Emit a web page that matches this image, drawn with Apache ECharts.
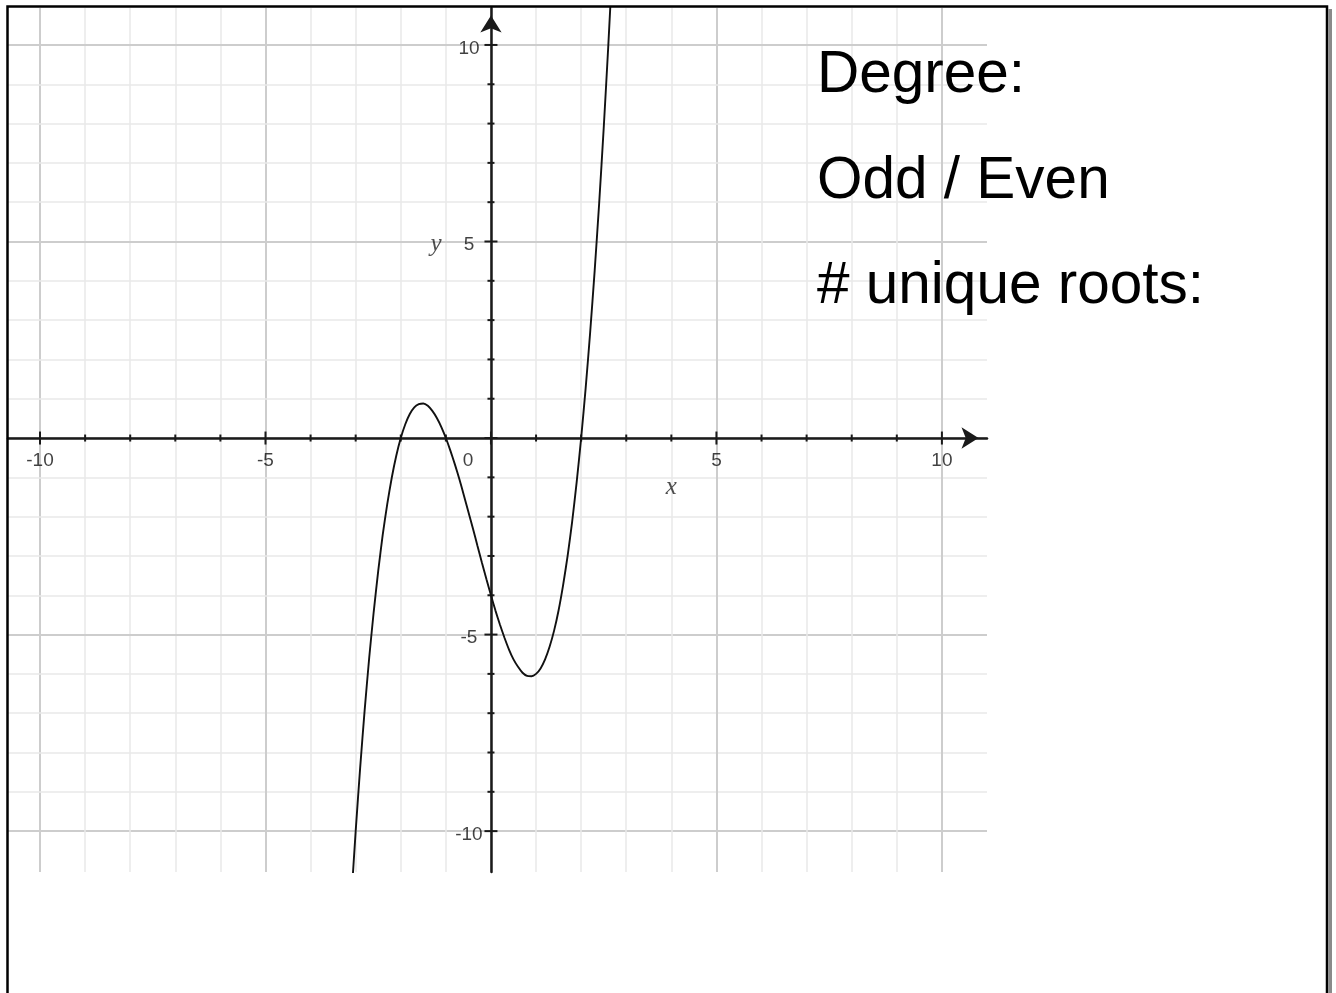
<!DOCTYPE html>
<html>
<head>
<meta charset="utf-8">
<style>
html,body{margin:0;padding:0;background:#fff;}
#chart{width:1336px;height:993px;}
</style>
<script src="https://cdn.jsdelivr.net/npm/echarts@6/dist/echarts.min.js"></script>
</head>
<body>
<div id="chart"></div>
<script>
// ---- data ----
const curveX = [-3.1, -3.0, -2.9, -2.8, -2.7, -2.6, -2.5, -2.4, -2.3, -2.2, -2.1, -2.0, -1.9, -1.8, -1.7, -1.6, -1.5, -1.4, -1.3, -1.2, -1.1, -1.0,
  -0.9, -0.8, -0.7, -0.6, -0.5, -0.4, -0.3, -0.2, -0.1, 0, 0.1, 0.2, 0.3, 0.4, 0.5, 0.6, 0.7, 0.8, 0.9, 1.0,
  1.1, 1.2, 1.3, 1.4, 1.5, 1.6, 1.7, 1.8, 1.9, 2.0, 2.1, 2.2, 2.3, 2.4, 2.5, 2.6, 2.7];
const curveY = [-11.78, -10.0, -8.38, -6.91, -5.59, -4.42, -3.38, -2.46, -1.68, -1.01, -0.45, 0, 0.35, 0.61, 0.78, 0.86, 0.88, 0.82, 0.69, 0.51, 0.28, 0,
  -0.32, -0.67, -1.05, -1.46, -1.88, -2.30, -2.74, -3.17, -3.59, -4.0, -4.39, -4.75, -5.08, -5.38, -5.63, -5.82, -5.97, -6.05, -6.06, -6.0,
  -5.86, -5.63, -5.31, -4.90, -4.38, -3.74, -3.00, -2.13, -1.13, 0, 1.27, 2.69, 4.26, 5.98, 7.88, 9.94, 12.17];
const gridSteps = [-10, -9, -8, -7, -6, -5, -4, -3, -2, -1, 0, 1, 2, 3, 4, 5, 6, 7, 8, 9, 10];
const majorSteps = [-10, -5, 0, 5, 10];
const xTickLabels = [-10, -5, 0, 5, 10];
const yTickLabels = [-10, -5, 5, 10];
const axisNames = ['x', 'y'];
const sideTexts = ['Degree:', 'Odd / Even', '# unique roots:'];
const xRange = [-10.71, 11.0];
const yRange = [-11.04, 10.94];

const isMajor = v => majorSteps.indexOf(v) >= 0;
const minorColor = '#e8e8e8', majorColor = '#cdcdcd';

const gridLines = [];
gridSteps.forEach(v => {
  const st = {color: isMajor(v) ? majorColor : minorColor, width: isMajor(v) ? 2 : 1.5, type: 'solid'};
  gridLines.push({xAxis: v, lineStyle: st});
  gridLines.push({yAxis: v, lineStyle: st});
});

const xTicks = gridSteps.map(v => ({value: [v, 0], symbolSize: isMajor(v) ? [2, 13] : [2, 7]}));
const yTicks = gridSteps.map(v => ({value: [0, v], symbolSize: isMajor(v) ? [13, 2] : [7, 2]}));

const labelFont = {fontSize: 19, fontFamily: '"Liberation Sans", Arial, sans-serif', color: '#111', textBorderWidth: 0};
const xLabelData = xTickLabels.map(v => ({value: [v, 0], label: {offset: v === 0 ? [-23, 23] : [0, 23]}}));
const yLabelData = yTickLabels.map(v => ({value: [0, v], label: {offset: [-22, 3.5]}}));
const nameFont = {fontSize: 25, fontStyle: 'italic', fontFamily: '"Liberation Serif", "Times New Roman", serif', color: '#222', textBorderWidth: 0};

const chart = echarts.init(document.getElementById('chart'), null, {renderer: 'canvas'});
chart.setOption({
  animation: false,
  backgroundColor: '#ffffff',
  grid: {left: 8, top: 8, width: 979, height: 864, containLabel: false, outerBoundsMode: 'none'},
  xAxis: {
    type: 'value', min: xRange[0], max: xRange[1], z: 3,
    axisLine: {onZero: true, lineStyle: {color: '#1a1a1a', width: 2.5}, symbol: ['none', 'arrow'], symbolSize: [16, 17], symbolOffset: [0, -8.5]},
    axisTick: {show: false},
    splitLine: {show: false},
    axisLabel: {show: false}
  },
  yAxis: {
    type: 'value', min: yRange[0], max: yRange[1], z: 3,
    axisLine: {onZero: true, lineStyle: {color: '#1a1a1a', width: 2.5}, symbol: ['none', 'arrow'], symbolSize: [16, 17], symbolOffset: [0, -7.5]},
    axisTick: {show: false},
    splitLine: {show: false},
    axisLabel: {show: false}
  },
  series: [
    {
      type: 'line', data: [], z: 1, silent: true,
      markLine: {z: 1, silent: true, symbol: ['none', 'none'], label: {show: false}, animation: false, data: gridLines}
    },
    {
      type: 'scatter', z: 4, silent: true, symbol: 'rect',
      itemStyle: {color: '#1a1a1a', opacity: 1}, data: xTicks.concat(yTicks)
    },
    {
      type: 'scatter', z: 6, silent: true, symbol: 'circle', symbolSize: 1, itemStyle: {color: 'rgba(0,0,0,0)'},
      label: Object.assign({show: true, position: 'inside', formatter: p => String(p.value[0])}, labelFont),
      data: xLabelData
    },
    {
      type: 'scatter', z: 6, silent: true, symbol: 'circle', symbolSize: 1, itemStyle: {color: 'rgba(0,0,0,0)'},
      label: Object.assign({show: true, position: 'inside', formatter: p => String(p.value[1])}, labelFont),
      data: yLabelData
    },
    {
      type: 'scatter', z: 6, silent: true, symbol: 'circle', symbolSize: 1, itemStyle: {color: 'rgba(0,0,0,0)'},
      label: Object.assign({show: true, position: 'inside', formatter: p => p.name}, nameFont),
      data: [{name: axisNames[0], value: [4, 0], label: {offset: [0, 49]}}, {name: axisNames[1], value: [0, 5], label: {offset: [-55, 3]}}]
    },
    {
      type: 'line', z: 5, smooth: 0.2, showSymbol: false, clip: true, silent: true,
      lineStyle: {color: '#111', width: 1.9},
      data: curveX.map((x, i) => [x, curveY[i]])
    }
  ],
  graphic: [
    {type: 'rect', z: 10, silent: true, shape: {x: 7.5, y: 6.5, width: 1319.5, height: 1000}, style: {fill: null, stroke: '#000', lineWidth: 2.5}},
    {type: 'rect', z: 9, silent: true, shape: {x: 1328.5, y: 9, width: 3.5, height: 990}, style: {fill: '#8a8a8a'}},
    {type: 'text', z: 10, left: 817, top: 46, style: {text: sideTexts[0], font: '58.5px "Liberation Sans", Arial, sans-serif', fill: '#000'}},
    {type: 'text', z: 10, left: 817, top: 152, style: {text: sideTexts[1], font: '58.5px "Liberation Sans", Arial, sans-serif', fill: '#000'}},
    {type: 'text', z: 10, left: 817, top: 257, style: {text: sideTexts[2], font: '58.5px "Liberation Sans", Arial, sans-serif', fill: '#000'}}
  ]
});
</script>
</body>
</html>
